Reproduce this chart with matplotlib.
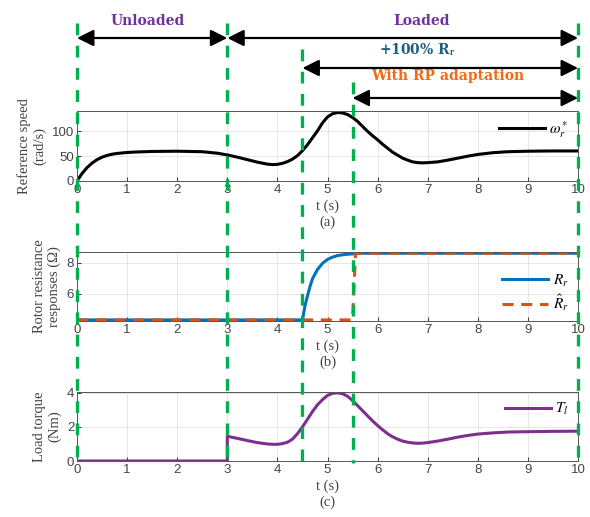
import matplotlib
matplotlib.use("Agg")
import matplotlib.pyplot as plt
from matplotlib.lines import Line2D
from matplotlib.patches import FancyArrowPatch
from matplotlib.transforms import blended_transform_factory

# --- data ---
t_speed = [0, 0.1, 0.2, 0.3, 0.4, 0.5, 0.6, 0.7, 0.8, 1.0, 1.2, 1.5, 2.0, 2.5, 2.8,
           3.0, 3.2, 3.4, 3.6, 3.8, 3.9, 4.0, 4.1, 4.2, 4.3, 4.4, 4.5, 4.6, 4.7, 4.8,
           4.9, 5.0, 5.1, 5.2, 5.3, 5.4, 5.5, 5.6, 5.7, 5.8, 5.9, 6.0, 6.1, 6.2, 6.3,
           6.4, 6.5, 6.6, 6.7, 6.8, 6.9, 7.0, 7.2, 7.4, 7.6, 7.8, 8.0, 8.3, 8.6, 9.0,
           9.5, 10.0]
w_ref = [0, 15, 27, 36, 43, 48, 51.5, 54, 55.5, 57.5, 58.5, 59.5, 60, 59, 56,
         52.5, 48, 43, 38, 34, 33, 33.5, 35.5, 39, 44, 51, 61, 73, 87, 101,
         117, 129, 135.5, 138, 137, 134, 128, 120, 110, 100, 91, 83, 74, 66, 58,
         52, 46, 42, 38.5, 37, 36.5, 37, 38.5, 42, 46, 50, 53.5, 57, 59, 60,
         60.5, 60.5]

t_rr = [0, 4.5, 4.55, 4.6, 4.65, 4.7, 4.8, 4.9, 5.0, 5.1, 5.2, 5.35, 5.5, 5.7, 6.0, 10]
rr = [4.3, 4.3, 5.2, 5.85, 6.45, 6.95, 7.55, 7.95, 8.2, 8.35, 8.45, 8.52, 8.56, 8.6, 8.6, 8.6]
t_rr_hat = [0, 5.5, 5.56, 10]
rr_hat = [4.3, 4.3, 8.6, 8.6]

t_load = [0, 3.0, 3.0, 3.2, 3.4, 3.6, 3.8, 3.9, 4.0, 4.1, 4.2, 4.3, 4.4, 4.5, 4.6,
          4.7, 4.8, 4.9, 5.0, 5.1, 5.2, 5.3, 5.4, 5.5, 5.6, 5.7, 5.8, 5.9, 6.0, 6.1,
          6.2, 6.3, 6.4, 6.5, 6.6, 6.7, 6.8, 6.9, 7.0, 7.2, 7.4, 7.6, 7.8, 8.0, 8.3,
          8.6, 9.0, 9.5, 10.0]
t_l = [0, 0, 1.45, 1.33, 1.2, 1.08, 1.0, 0.98, 0.98, 1.02, 1.1, 1.28, 1.6, 2.0, 2.45,
       2.9, 3.3, 3.6, 3.85, 3.97, 4.0, 3.95, 3.8, 3.55, 3.25, 2.95, 2.65, 2.35, 2.08, 1.83,
       1.6, 1.42, 1.28, 1.17, 1.1, 1.06, 1.04, 1.05, 1.08, 1.17, 1.28, 1.4, 1.5, 1.58, 1.65,
       1.7, 1.72, 1.74, 1.75]

x_ticks = list(range(0, 11))
event_times = [0, 3, 4.5, 5.5, 10]

plt.rcParams['mathtext.fontset'] = 'stix'
plt.rcParams['lines.scale_dashes'] = False

TXT = '#444444'
SERIF = 'Liberation Serif'
SANS = 'Liberation Sans'
GREEN = '#00b050'

fig = plt.figure(figsize=(5.9, 5.17), dpi=100)
W, H = 590.0, 517.0
left, right = 77 / W, 578 / W


def make_axes(top_px, bot_px):
    return fig.add_axes([left, 1 - bot_px / H, right - left, (bot_px - top_px) / H])


ax_a = make_axes(111, 181)
ax_b = make_axes(252, 321)
ax_c = make_axes(392, 461)


def style(ax, ylabel, tag, yticks, ylim):
    ax.set_xlim(0, 10)
    ax.set_ylim(*ylim)
    ax.set_xticks(x_ticks)
    ax.set_yticks(yticks)
    ax.grid(True, color='#e3e3e3', linewidth=0.6)
    ax.set_axisbelow(True)
    ax.tick_params(direction='in', length=3, labelsize=9.5, colors=TXT, pad=2)
    for lbl in ax.get_xticklabels() + ax.get_yticklabels():
        lbl.set_family(SANS)
    for s in ax.spines.values():
        s.set_color('#555555')
        s.set_linewidth(0.7)
    ax.set_ylabel(ylabel, family=SERIF, fontsize=10.5, color=TXT, labelpad=4)
    ax.set_xlabel('t (s)\n' + tag, family=SERIF, fontsize=10.5, color=TXT,
                  labelpad=3, linespacing=1.25)


# (a) reference speed
ax_a.plot(t_speed, w_ref, color='black', linewidth=2.2, label=r'$\omega_r^*$')
style(ax_a, 'Reference speed\n(rad/s)', '(a)', [0, 50, 100], (0, 141))
ax_a.legend(loc='center right', bbox_to_anchor=(1.0, 0.74), frameon=False,
            fontsize=11, handlelength=3.0, handletextpad=0.3, borderaxespad=0.2)

# (b) rotor resistance
ax_b.plot(t_rr, rr, color='#0072bd', linewidth=2.2, label=r'$R_r$')
ax_b.plot(t_rr_hat, rr_hat, color='#d95319', linewidth=2.2, linestyle=(0, (8, 5.5)),
          label=r'$\hat{R}_r$')
style(ax_b, 'Rotor resistance\nresponses (\u03a9)', '(b)', [6, 8], (4.23, 8.68))
ax_b.legend(loc='center right', bbox_to_anchor=(1.0, 0.405), frameon=False,
            fontsize=11, handlelength=3.0, handletextpad=0.3, borderaxespad=0.2,
            labelspacing=0.25)

# (c) load torque
ax_c.plot(t_load, t_l, color='#7e2f8e', linewidth=2.2, label=r'$T_l$')
style(ax_c, 'Load torque\n(Nm)', '(c)', [0, 2, 4], (0, 4.05))
ax_c.legend(loc='center right', bbox_to_anchor=(1.0, 0.75), frameon=False,
            fontsize=11, handlelength=3.0, handletextpad=0.3, borderaxespad=0.2)

# event markers spanning the whole figure
trans = blended_transform_factory(ax_a.transData, fig.transFigure)
line_tops = [23, 23, 49, 82, 23]
for tx, top in zip(event_times, line_tops):
    fig.add_artist(Line2D([tx, tx], [1 - top / H, 1 - 463 / H], transform=trans,
                          color=GREEN, linewidth=2.4, dashes=(8.5, 7.5), zorder=10))

# phase arrows
arrows = [(0, 3, 38), (3, 10, 38), (4.5, 10, 68), (5.5, 10, 98)]
for x0, x1, y in arrows:
    fig.add_artist(FancyArrowPatch((x0, 1 - y / H), (x1, 1 - y / H), transform=trans,
                                   arrowstyle='<|-|>,head_length=0.5,head_width=0.25',
                                   mutation_scale=20, color='black', linewidth=1.6,
                                   shrinkA=0, shrinkB=0, zorder=11))

labels = [(1.42, 21, 'Unloaded', '#7030a0'),
          (6.87, 21, 'Loaded', '#7030a0'),
          (6.8, 50, r'+100% R$_\mathbf{r}$', '#215f7c'),
          (7.4, 76, 'With RP adaptation', '#f46a12')]
for x, y, s, c in labels:
    fig.text(x, 1 - y / H, s, transform=trans, ha='center', va='center',
             family='DejaVu Serif', fontweight='bold', fontsize=10, color=c)

fig.savefig('out.png', dpi=100)
